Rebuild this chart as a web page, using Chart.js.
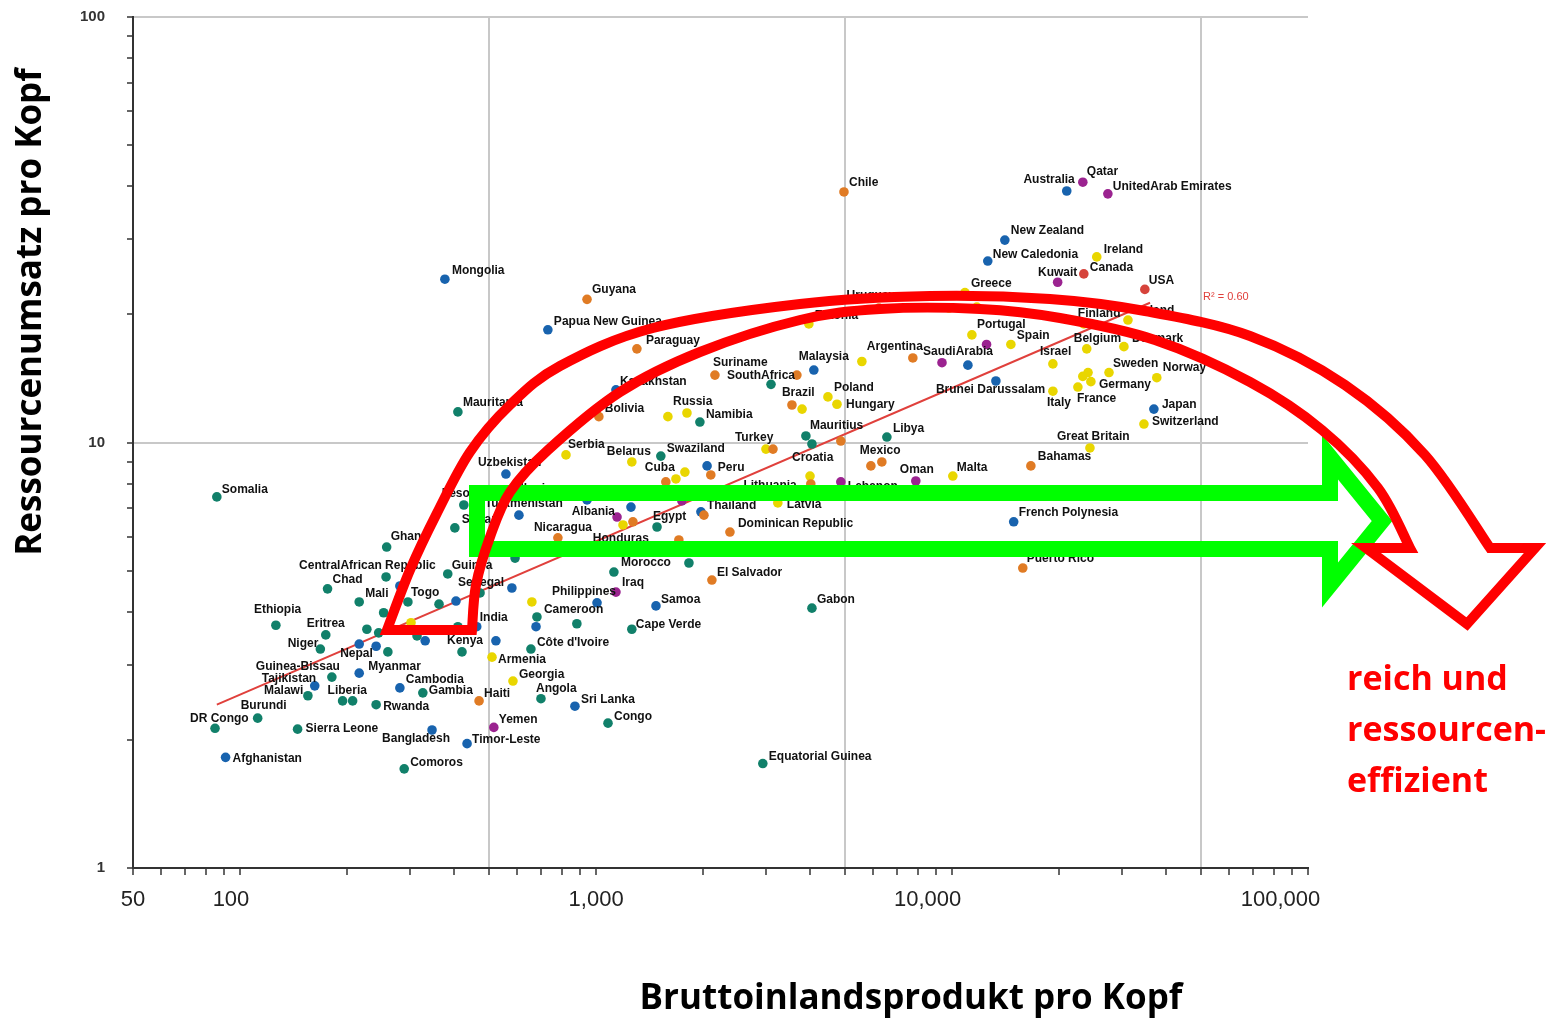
<!DOCTYPE html>
<html>
<head>
<meta charset="utf-8">
<script src="https://cdn.jsdelivr.net/npm/chart.js@4.4.1/dist/chart.umd.min.js"></script>
<style>
  html, body { margin: 0; padding: 0; background: #ffffff; }
  #wrap { position: relative; width: 1568px; height: 1020px; }
  canvas { display: block; }
</style>
</head>
<body>
<div id="wrap"><canvas id="chart" width="1568" height="1020"></canvas></div>
<script>
// Country names ('' = unlabelled dot)
const countries = [
  'Somalia','Mongolia','Guyana','Papua New Guinea','Paraguay','Chile','Australia','Qatar','UnitedArab Emirates','New Zealand',
  'New Caledonia','Ireland','Canada','Kuwait','USA','Greece','Uruguay','','','Estonia',
  'Finland','Iceland','Portugal','','Spain','Malaysia','Argentina','','SaudiArabia','',
  'Israel','Brunei Darussalam','Italy','Belgium','Denmark','Sweden','Norway','','','Germany',
  'France','Japan','Switzerland','Great Britain','Bahamas','Brazil','','Poland','Hungary','Mauritius',
  '','','Libya','Croatia','Lithuania','Mexico','','Oman','Malta','Lebanon',
  'Suriname','SouthAfrica','','Kazakhstan','Mauritania','Bolivia','Russia','','Namibia','Turkey',
  '','Serbia','Belarus','Swaziland','Uzbekistan','Cuba','','','','Peru',
  'Turkmenistan','','','','Albania','','','Egypt','Thailand','',
  'Dominican Republic','Nicaragua','','Morocco','','El Salvador','Iraq','Philippines','','Samoa',
  'Senegal','','Guinea','Lesotho','Sudan','Ghana','CentralAfrican Republic','Chad','','Togo',
  'Mali','','','Ethiopia','Eritrea','Niger','','','','',
  'Nepal','','','','','Kenya','India','','','Guinea-Bissau',
  'Myanmar','Tajikistan','Malawi','','Liberia','Cambodia','Gambia','Rwanda','Haiti','Burundi',
  'DR Congo','Sierra Leone','Bangladesh','Timor-Leste','Afghanistan','Comoros','Yemen','Cameroon','','',
  'Cape Verde',"Côte d'Ivoire",'Armenia','Georgia','Angola','Sri Lanka','Congo','Equatorial Guinea','Gabon','French Polynesia',
  'Puerto Rico','Latvia','Honduras','Ukraine',''
];

// GDP per capita (US$)
const gdpPerCapita = [
  86,376,943,732,1302,4970,21000,23300,27400,14070,
  12600,25500,23450,19800,34800,10870,6230,9800,11740,3960,
  23450,31200,11370,12500,14630,4090,7760,5580,9370,11080,
  19200,13280,19200,23900,30400,27600,37600,24100,23300,24550,
  22570,36900,34600,24400,16650,3550,3790,4480,4750,3885,
  4040,4870,6560,3990,4010,6350,5915,7910,10050,4870,
  2157,3100,3665,1137,409,1018,1800,1591,1957,3000,
  3140,823,1260,1520,558,1570,1676,1776,2050,2100,
  607,943,1253,1742,1145,1190,1269,1483,1970,2009,
  2377,781,1708,1122,1823,2115,1137,1006,660,1473,
  472,580,383,425,401,258,257,176,281,296,
  216,362,404,126,174,168,227,245,253,216,
  241,260,302,314,331,420,462,523,409,181,
  216,162,155,194,207,281,326,241,469,112,
  85,145,346,434,91,289,516,682,678,883,
  1260,656,510,584,700,872,1080,2940,4040,14900,
  15800,3240,948,573,592
];

// Resource use per capita (t)
const resourcePerCapita = [
  7.45,24.2,21.7,18.4,16.6,38.8,39.0,40.9,38.4,29.9,
  26.7,27.3,24.9,23.8,22.9,22.5,20.7,20.7,20.8,19.0,
  19.0,19.4,17.9,17.0,17.0,14.8,15.8,15.5,15.4,15.2,
  15.3,13.95,13.2,16.6,16.8,14.6,14.2,14.6,14.3,13.9,
  13.5,11.98,11.05,9.71,8.81,12.25,11.98,12.8,12.3,10.36,
  9.92,10.08,10.3,8.34,7.99,9.0,8.81,8.12,8.34,8.08,
  14.4,13.7,14.4,13.3,11.8,11.5,11.73,11.5,11.17,9.65,
  9.65,9.35,9.0,9.29,8.43,8.08,8.21,8.52,8.81,8.39,
  6.75,7.33,7.05,7.29,6.68,6.40,6.51,6.33,6.87,6.75,
  6.16,5.97,5.90,4.96,5.21,4.75,4.45,4.20,4.22,4.13,
  4.43,4.55,4.91,7.13,6.30,5.68,4.83,4.53,4.60,4.22,
  4.22,4.17,4.24,3.72,3.53,3.27,3.64,3.57,3.98,3.36,
  3.32,3.22,3.77,3.51,3.42,3.22,3.69,3.42,3.69,2.81,
  2.87,2.68,2.54,2.47,2.47,2.65,2.58,2.42,2.47,2.25,
  2.13,2.12,2.11,1.96,1.82,1.71,2.14,3.89,3.69,3.75,
  3.64,3.27,3.13,2.75,2.50,2.40,2.19,1.76,4.08,6.51,
  5.07,7.21,5.65,7.57,5.35
];

// World region of each country
const regions = [
  'afr','asi','lat','asi','lat','lat','asi','mea','mea','asi',
  'asi','eur','nam','mea','nam','eur','lat','eur','eur','eur',
  'eur','eur','eur','mea','eur','asi','lat','eur','mea','asi',
  'eur','asi','eur','eur','eur','eur','eur','eur','eur','eur',
  'eur','asi','eur','eur','lat','lat','eur','eur','eur','afr',
  'afr','lat','afr','eur','lat','lat','lat','mea','eur','mea',
  'lat','afr','lat','asi','afr','lat','eur','eur','afr','eur',
  'lat','eur','eur','afr','asi','lat','eur','eur','asi','lat',
  'asi','asi','asi','mea','mea','eur','lat','afr','asi','lat',
  'lat','lat','lat','afr','afr','lat','mea','asi','eur','asi',
  'afr','asi','afr','afr','afr','afr','afr','afr','asi','afr',
  'afr','afr','asi','afr','afr','afr','afr','afr','afr','asi',
  'asi','afr','eur','afr','asi','afr','asi','asi','afr','afr',
  'asi','asi','afr','afr','afr','asi','afr','afr','lat','afr',
  'afr','afr','asi','asi','asi','afr','mea','afr','asi','afr',
  'afr','afr','eur','eur','afr','asi','afr','afr','afr','asi',
  'lat','eur','lat','eur','afr'
];

// Log-linear regression line end points (GDP, resource use)
const trendGdp = [86, 36000];
const trendResource = [2.42, 21.3];
const trendLabel = 'R² = 0.60';

// Axis ticks (trailing spaces nudge the printed numbers left of their tick)
const xTickValues = [50,60,70,80,90,100,200,300,400,500,600,700,800,900,1000,2000,3000,4000,5000,6000,7000,8000,9000,10000,20000,30000,40000,50000,60000,70000,80000,90000,100000];
const xTickText = {50:'50', 100:'100   ', 1000:'1,000', 10000:'10,000        ', 100000:'100,000         '};
const xGridValues = [500, 5000, 50000];
const yTickValues = [1,2,3,4,5,6,7,8,9,10,20,30,40,50,60,70,80,90,100];
const yTickText = {1:'1', 10:'10', 100:'100'};
const yGridValues = [10, 100];

const xTitle = 'Bruttoinlandsprodukt pro Kopf';
const yTitle = 'Ressourcenumsatz pro Kopf';
const noteLines = ['reich und', 'ressourcen-', 'effizient'];

const regionColors = { afr: '#11806a', asi: '#1863ae', lat: '#e07b24', eur: '#e9d600', mea: '#9b2390', nam: '#d6433b' };

// Where each country name sits relative to its dot: [dx, dy, align]
const labelPlacement = {
  'Somalia':[5,-7], 'Australia':[8,-11,'right'], 'Qatar':[4,-11], 'UnitedArab Emirates':[5,-7], 'Chile':[5,-9],
  'New Zealand':[6,-9], 'New Caledonia':[5,-6], 'Ireland':[7,-7], 'Canada':[6,-6], 'Kuwait':[0,-10,'center'],
  'USA':[4,-9], 'Greece':[6,-9], 'Uruguay':[-8,-12,'center'], 'Estonia':[6,-8], 'Finland':[-6,-10],
  'Iceland':[5,-9], 'Portugal':[5,-10], 'Spain':[6,-9], 'Malaysia':[-15,-13], 'Argentina':[10,-11,'right'],
  'SaudiArabia':[-19,-11], 'Israel':[-13,-12], 'Brunei Darussalam':[-60,9], 'Italy':[-6,11], 'Belgium':[-13,-10],
  'Denmark':[8,-8], 'Sweden':[4,-9], 'Norway':[6,-10], 'Germany':[8,3], 'France':[-1,12],
  'Japan':[8,-4], 'Switzerland':[8,-2], 'Great Britain':[-33,-11], 'Bahamas':[7,-9], 'Brazil':[-10,-12],
  'Poland':[6,-9], 'Hungary':[9,0], 'Mauritius':[4,-10], 'Libya':[6,-8], 'Croatia':[-18,-18],
  'Lithuania':[-14,2,'right'], 'Mexico':[-22,-11], 'Oman':[-16,-11], 'Malta':[4,-8], 'Lebanon':[7,5],
  'Mongolia':[7,-8], 'Guyana':[5,-10], 'Papua New Guinea':[6,-8], 'Paraguay':[9,-8], 'Suriname':[-2,-12],
  'SouthAfrica':[-44,-9], 'Kazakhstan':[4,-8], 'Mauritania':[5,-9], 'Bolivia':[6,-8], 'Russia':[-14,-11],
  'Namibia':[6,-7], 'Turkey':[-31,-11], 'Serbia':[2,-10], 'Belarus':[-25,-10], 'Swaziland':[6,-7],
  'Uzbekistan':[-28,-11], 'Cuba':[-21,-14], 'Peru':[7,-7], 'Turkmenistan':[-34,-11], 'Albania':[-2,-5,'right'],
  'Egypt':[-4,-10], 'Thailand':[6,-6], 'Dominican Republic':[8,-8], 'Nicaragua':[-24,-10], 'Honduras':[5,-9],
  'Morocco':[7,-9], 'El Salvador':[5,-7], 'Iraq':[6,-9], 'Philippines':[-45,-11], 'Samoa':[5,-6],
  'Senegal':[-22,-10], 'Guinea':[4,-8], 'Lesotho':[-22,-11], 'Sudan':[7,-8], 'Ghana':[4,-10],
  'CentralAfrican Republic':[-87,-11], 'Chad':[5,-9], 'Togo':[3,-9], 'Mali':[6,-8], 'Ethiopia':[-22,-16],
  'Eritrea':[-19,-11], 'Niger':[-2,-5,'right'], 'Nepal':[-36,7], 'Kenya':[-15,-11], 'India':[3,-9],
  'Guinea-Bissau':[-76,-10], 'Myanmar':[9,-6], 'Tajikistan':[-53,-7], 'Malawi':[-44,-5], 'Liberia':[-25,-10],
  'Cambodia':[6,-8], 'Gambia':[6,-2], 'Rwanda':[7,2], 'Haiti':[5,-7], 'Burundi':[-17,-12],
  'DR Congo':[-25,-10], 'Sierra Leone':[8,0], 'Bangladesh':[-50,9], 'Timor-Leste':[5,-4], 'Afghanistan':[7,1],
  'Comoros':[6,-6], 'Yemen':[5,-8], 'Cameroon':[7,-7], 'Cape Verde':[4,-5], "Côte d'Ivoire":[6,-6],
  'Armenia':[6,3], 'Georgia':[6,-6], 'Angola':[-5,-10], 'Sri Lanka':[6,-7], 'Congo':[6,-6],
  'Equatorial Guinea':[6,-7], 'Gabon':[5,-8], 'French Polynesia':[5,-9], 'Puerto Rico':[4,-9], 'Latvia':[9,2],
  'Ukraine':[5,-5]
};

const countryPoints = gdpPerCapita.map((g, i) => ({ x: g, y: resourcePerCapita[i] }));
const trendPoints = trendGdp.map((g, i) => ({ x: g, y: trendResource[i] }));

// Smooth curve through a list of canvas points (Catmull-Rom as cubic Béziers)
function curveThrough(ctx, pts) {
  for (let i = 0; i < pts.length - 1; i++) {
    const p0 = pts[i - 1] || pts[i], p1 = pts[i], p2 = pts[i + 1], p3 = pts[i + 2] || pts[i + 1];
    ctx.bezierCurveTo(
      p1[0] + (p2[0] - p0[0]) / 6, p1[1] + (p2[1] - p0[1]) / 6,
      p2[0] - (p3[0] - p1[0]) / 6, p2[1] - (p3[1] - p1[1]) / 6,
      p2[0], p2[1]);
  }
}

// Outline arrows drawn on top of the scatter (canvas pixels)
const curvedOuter = [[387,630],[410,570],[437,513],[470,452],[510,405],[560,366],[653,328],[800,304],[930,296],[1050,299],[1145,311],[1250,336],[1345,385],[1425,455],[1490,548]];
const curvedInner = [[1410,548],[1378,488],[1322,430],[1250,382],[1155,340],[1060,318],[980,309],[880,309],[800,320],[700,352],[620,392],[548,450],[510,492],[490,537],[476,585],[472,630]];
const curvedHead = [[1535,548],[1467,624],[1366,548]];
const straightArrow = [[477,493],[1330,493],[1330,457],[1382,521],[1330,585],[1330,549],[477,549]];

const overlay = {
  id: 'overlay',
  afterDatasetsDraw(chart) {
    const ctx = chart.ctx;
    const pts = chart.getDatasetMeta(1).data;
    ctx.save();
    ctx.font = 'bold 12px "Liberation Sans", Arial, sans-serif';
    ctx.fillStyle = '#111111';
    ctx.textBaseline = 'middle';
    pts.forEach((el, i) => {
      const name = countries[i];
      if (!name) return;
      const p = labelPlacement[name] || [5, -8];
      ctx.textAlign = p[2] || 'left';
      ctx.fillText(name, el.x + p[0], el.y + p[1]);
    });
    // regression label
    const t = chart.getDatasetMeta(0).data;
    const end = t[t.length - 1];
    ctx.font = '11px "Liberation Sans", Arial, sans-serif';
    ctx.fillStyle = '#e0403c';
    ctx.textAlign = 'left';
    ctx.fillText(trendLabel, end.x + 53, end.y - 6);
    ctx.restore();
  },
  afterDraw(chart) {
    const ctx = chart.ctx;
    ctx.save();
    // green straight arrow
    ctx.lineJoin = 'miter';
    ctx.miterLimit = 10;
    ctx.strokeStyle = '#00ff00';
    ctx.lineWidth = 16;
    ctx.beginPath();
    straightArrow.forEach((p, i) => i ? ctx.lineTo(p[0], p[1]) : ctx.moveTo(p[0], p[1]));
    ctx.closePath();
    ctx.stroke();

    // red curved arrow
    ctx.strokeStyle = '#ff0000';
    ctx.lineWidth = 10;
    ctx.beginPath();
    ctx.moveTo(curvedOuter[0][0], curvedOuter[0][1]);
    curveThrough(ctx, curvedOuter);
    curvedHead.forEach(p => ctx.lineTo(p[0], p[1]));
    ctx.lineTo(curvedInner[0][0], curvedInner[0][1]);
    curveThrough(ctx, curvedInner);
    ctx.closePath();
    ctx.stroke();

    // axis titles
    ctx.fillStyle = '#000000';
    ctx.font = 'bold 35px "Open Sans", "Liberation Sans", sans-serif';
    ctx.textAlign = 'center';
    ctx.textBaseline = 'middle';
    ctx.fillText(xTitle, 911, 999);
    ctx.save();
    ctx.translate(31, 312);
    ctx.rotate(-Math.PI / 2);
    ctx.fillText(yTitle, 0, 0);
    ctx.restore();

    // side note
    ctx.fillStyle = '#ff0000';
    ctx.font = 'bold 34px "Open Sans", "Liberation Sans", sans-serif';
    ctx.textAlign = 'left';
    ctx.textBaseline = 'alphabetic';
    noteLines.forEach((line, i) => ctx.fillText(line, 1347, 690 + i * 51));
    ctx.restore();
  }
};

new Chart(document.getElementById('chart'), {
  type: 'scatter',
  data: {
    datasets: [
      {
        data: trendPoints,
        showLine: true,
        borderColor: '#e0403c',
        borderWidth: 2,
        pointRadius: 0,
        order: 2
      },
      {
        data: countryPoints,
        pointRadius: 4.8,
        pointBorderWidth: 0,
        pointBackgroundColor: regions.map(r => regionColors[r]),
        order: 1
      }
    ]
  },
  options: {
    responsive: false,
    animation: false,
    devicePixelRatio: 1,
    layout: { padding: { left: 0, top: 17, right: 260, bottom: 0 } },
    plugins: { legend: { display: false }, tooltip: { enabled: false } },
    scales: {
      x: {
        type: 'logarithmic',
        min: 50,
        max: 100000,
        afterBuildTicks: s => { s.ticks = xTickValues.map(v => ({ value: v })); },
        afterFit: s => { s.height = 152; s.paddingLeft = 0; s.paddingRight = 0; },
        ticks: {
          autoSkip: false, maxRotation: 0, padding: 12,
          color: '#222222',
          font: { family: '"Liberation Sans Narrow", "Liberation Sans", Arial', size: 22 },
          callback: v => xTickText[v] || ''
        },
        grid: {
          color: c => (c.tick && xGridValues.includes(c.tick.value)) ? '#c8c8c8' : 'rgba(0,0,0,0)',
          lineWidth: 2,
          drawTicks: true, tickLength: 7, tickColor: '#333333', tickWidth: 1.5
        },
        border: { display: true, color: '#333333', width: 2 }
      },
      y: {
        type: 'logarithmic',
        min: 1,
        max: 100,
        afterBuildTicks: s => { s.ticks = yTickValues.map(v => ({ value: v })); },
        afterFit: s => { s.width = 133; s.paddingTop = 0; s.paddingBottom = 0; },
        ticks: {
          autoSkip: false, padding: 22,
          color: '#333333',
          font: { family: '"Liberation Sans", Arial', size: 15, weight: 'bold' },
          callback: v => yTickText[v] || ''
        },
        grid: {
          color: c => (c.tick && yGridValues.includes(c.tick.value)) ? '#c8c8c8' : 'rgba(0,0,0,0)',
          lineWidth: 2,
          drawTicks: true, tickLength: 6, tickColor: '#333333', tickWidth: 1.5
        },
        border: { display: true, color: '#333333', width: 2 }
      }
    }
  },
  plugins: [overlay]
});
</script>
</body>
</html>
